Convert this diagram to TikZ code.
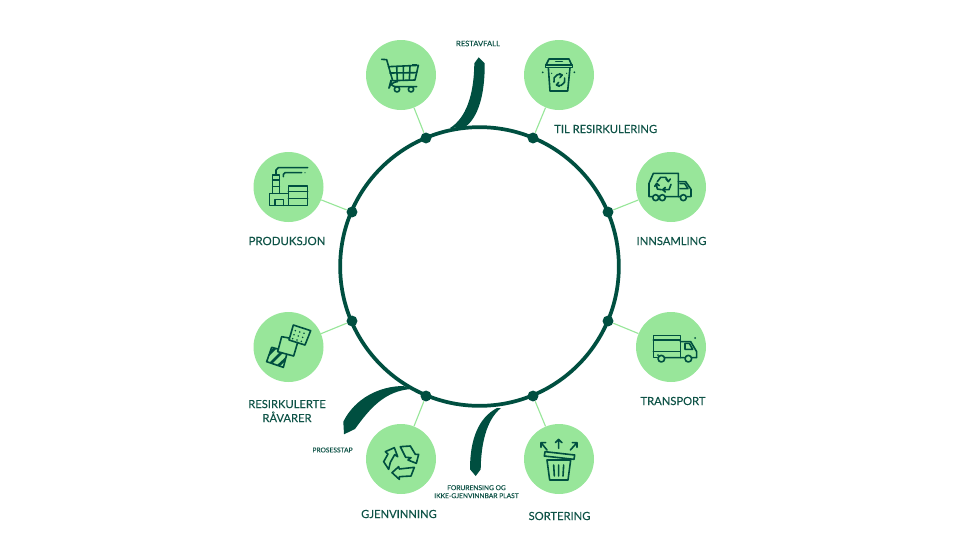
\documentclass[tikz,border=0pt]{standalone}
\usepackage{fontspec}
\setmainfont{Lato}[FakeBold=0.1]
\definecolor{deep}{HTML}{004F40}
\definecolor{leaf}{HTML}{98E69A}
\definecolor{inktext}{HTML}{0F5347}
\tikzset{
  stage/.style={circle,fill=leaf,minimum size=52.5pt,inner sep=0pt},
  joint/.style={circle,fill=deep,minimum size=8.2pt,inner sep=0pt},
  ringline/.style={circle,draw=deep,line width=2.8pt,minimum size=209pt,inner sep=0pt},
  link/.style={draw=leaf,line width=0.85pt},
  big/.style={text=inktext,font=\fontsize{8.4}{10.5}\selectfont,align=center,inner sep=0pt},
  tiny/.style={text=inktext,font=\fontsize{5}{6}\selectfont,align=center,inner sep=0pt},
  icon/.style={draw=deep,line width=1.2pt,line join=round,line cap=round},
  zoomed/.style={x=0.25pt,y=-0.25pt},
}
\begin{document}
\begin{tikzpicture}[x=0.75pt,y=-0.75pt]
\useasboundingbox (0,0) rectangle (960,540);
\node[ringline] (ring) at (479.5,266.5) {};
\node[joint] (d1) at (426,138) {};
\node[joint] (d2) at (533,138) {};
\node[joint] (d3) at (608,212) {};
\node[joint] (d4) at (608,321) {};
\node[joint] (d5) at (533,396) {};
\node[joint] (d6) at (426,396) {};
\node[joint] (d7) at (352,321) {};
\node[joint] (d8) at (352,212) {};
\node[stage] (c1) at (401,75) {};
\node[stage] (c2) at (559,75) {};
\node[stage] (c3) at (671,187) {};
\node[stage] (c4) at (671,347) {};
\node[stage] (c5) at (559,459) {};
\node[stage] (c6) at (401,459) {};
\node[stage] (c7) at (288.5,347) {};
\node[stage] (c8) at (288.5,187) {};
\foreach \i in {1,...,8} \draw[link] (c\i) -- (d\i);
% swooshes
\fill[deep] (450,128) .. controls (466,118) and (474,95) .. (474.3,63.3) -- (478.7,57.3) -- (484.7,63.3)
  .. controls (485,95) and (478,118) .. (465,127) -- cycle;
\fill[deep] (403.5,386) .. controls (380,386) and (355,398) .. (343.3,421.7) -- (344,434.3) -- (355,429)
  .. controls (370,408) and (385,391) .. (411,389) -- cycle;
\fill[deep] (497,408) .. controls (478,418) and (470,440) .. (470,469.3) -- (475.7,476) -- (480.7,469.3)
  .. controls (481,445) and (486,420) .. (501,408) -- cycle;
% labels
\node[tiny,font=\fontsize{5.7}{6}\selectfont] (t1) at (478,43.5) {RESTAVFALL};
\node[big,anchor=west] (t2) at (554,129) {TIL RESIRKULERING};
\node[big] (t3) at (671.5,241) {INNSAMLING};
\node[big] (t4) at (673,401) {TRANSPORT};
\node[big] (t5) at (559.5,516) {SORTERING};
\node[tiny] (t6) at (476.5,491.7) {FORURENSING OG\\IKKE-GJENVINNBAR PLAST};
\node[big] (t7) at (399,514) {GJENVINNING};
\node[tiny] (t8) at (332.5,450) {PROSESSTAP};
\node[big] (t9) at (287,411) {RESIRKULERTE\\RÅVARER};
\node[big,font=\fontsize{8.6}{10.5}\selectfont] (t10) at (287,241) {PRODUKSJON};
% cart
\begin{scope}[shift={(360,35)},zoomed]
\draw[icon] (65,73) -- (80,74) -- (98,137) -- (165,135) -- (175,91) -- (85,95);
\draw[icon] (90,114) -- (170,113);
\draw[icon] (110,95) -- (112,136) (130,94) -- (130,136) (150,93) -- (148,135);
\draw[icon,rounded corners=5pt] (110,140) -- (92,140) -- (88,155) -- (170,155);
\draw[icon] (111,163) circle (8) (153,163) circle (8);
\fill[deep] (155,87) rectangle (172,93);
\end{scope}
% recycling bin
\begin{scope}[shift={(520,35)},zoomed]
\draw[icon] (78,90) -- (87,72) -- (147,72) -- (155,90);
\draw[icon] (76,90) rectangle (157,98);
\draw[icon] (85,98) -- (90,168) -- (143,168) -- (150,98);
\draw[icon] (107,80) -- (127,80);
\draw[icon] (102,141) arc (160:300:17) (134,129) arc (340:480:17);
\draw[icon] (118,116) -- (126.5,120) -- (120,128) (118,154) -- (109.5,149.7) -- (116,142);
\fill[deep] (68,112) circle (3) (163,112) circle (3) (95,115) circle (2) (140,115) circle (2);
\end{scope}
% recycling truck
\begin{scope}[shift={(600,145)},zoomed]
\draw[icon] (158,155) -- (147,155) -- (147,115) -- (160,85) -- (235,85) -- (235,155);
\draw[icon] (197,155) -- (240,155) (235,110) -- (257,110) -- (273,133) -- (273,155) -- (262,155);
\draw[icon] (240,116) -- (254,116) -- (264,131) -- (240,131);
\draw[icon] (167,158) circle (9) (187,158) circle (9) (250,158) circle (9);
\draw[icon] (172,110) -- (182,97) -- (197,97) -- (204,108) (198,102) -- (205,110) -- (211,102);
\draw[icon] (213,118) -- (207,134) -- (190,134) (196,127) -- (188,134) -- (196,141);
\draw[icon] (184,134) -- (172,132) -- (169,119) (164,124) -- (170,115) -- (178,122);
\end{scope}
% delivery truck
\begin{scope}[shift={(600,305)},zoomed]
\draw[icon] (172,158) -- (160,158) -- (160,92) -- (241,92) -- (241,158);
\draw[icon] (160,105) -- (241,105) (160,140) -- (241,140);
\draw[icon] (195,158) -- (253,158) (241,110) -- (272,110) -- (290,140) -- (290,158) -- (277,158);
\draw[icon] (255,115) -- (268,115) -- (278,133) -- (255,133) -- cycle;
\draw[icon] (184,161) circle (10) (265,161) circle (10);
\fill[deep] (285,99) circle (3) (174,150) circle (3);
\end{scope}
% sorting bin
\begin{scope}[shift={(522,420)},zoomed]
\draw[icon] (75,120) -- (83,180) -- (138,180) -- (146,120) -- cycle;
\draw[icon] (69,95) -- (158,105) -- (156,118) -- (67,108) -- cycle;
\draw[icon] (95,135) -- (97,168) (110,135) -- (110,168) (125,135) -- (123,168);
\draw[icon] (110,85) -- (110,58) (100,68) -- (110,58) -- (120,68);
\draw[icon] (75,90) -- (57,68) (57,82) -- (57,68) -- (71,68);
\draw[icon] (145,90) -- (165,68) (151,68) -- (165,68) -- (165,82);
\end{scope}
% recycling triangle
\begin{scope}[shift={(362,420)},zoomed]
\draw[icon] (115,80) -- (145,78) -- (160,103) -- (170,103) -- (163,130) -- (138,120) -- (147,113) -- (131,112) -- cycle;
\draw[icon] (157,142) -- (147,168) -- (112,170) -- (112,178) -- (90,158) -- (110,140) -- (112,147) -- cycle;
\draw[icon] (80,148) -- (65,125) -- (78,102) -- (70,95) -- (97,83) -- (107,110) -- (98,104) -- (85,127) -- cycle;
\end{scope}
% raw materials
\begin{scope}[shift={(250,310)},zoomed]
\draw[icon] (130,45) -- (182,62) -- (165,105) -- (117,90) -- cycle;
\draw[icon] (117,84) -- (95,80) -- (83,125) -- (131,138) -- (143,97);
\draw[icon] (84,117) -- (65,112) -- (50,155) -- (100,172) -- (110,134);
\begin{scope}
\clip (65,112) -- (50,155) -- (100,172) -- (110,134) -- (84,125) -- (84,117) -- cycle;
\draw[icon,line width=2pt] (50,140) -- (80,110) (62,160) -- (100,122) (84,168) -- (125,130);
\end{scope}
\foreach \a/\b in {136/62,149/66,162/70,132/74,145/78,158/82,128/86,141/90,154/94}
  \fill[deep] (\a,\b) circle (2.6);
\end{scope}
% factory
\begin{scope}[shift={(240,145)},zoomed]
\draw[icon] (145,123) rectangle (203,181);
\draw[icon] (145,140) -- (203,140) (145,160) -- (203,160);
\draw[icon] (145,145) -- (88,145) -- (88,181) -- (145,181);
\draw[icon] (105,181) -- (105,163) -- (130,163) -- (130,181);
\draw[icon] (98,145) -- (98,90) -- (118,90) -- (118,145);
\draw[icon] (98,105) -- (118,105) (98,125) -- (118,125);
\draw[icon] (108,90) -- (108,75) -- (115,68) -- (203,68);
\draw[icon] (130,95) -- (130,88) -- (135,83) -- (185,83);
\fill[deep] (195,83) circle (2);
\end{scope}
\end{tikzpicture}
\end{document}
